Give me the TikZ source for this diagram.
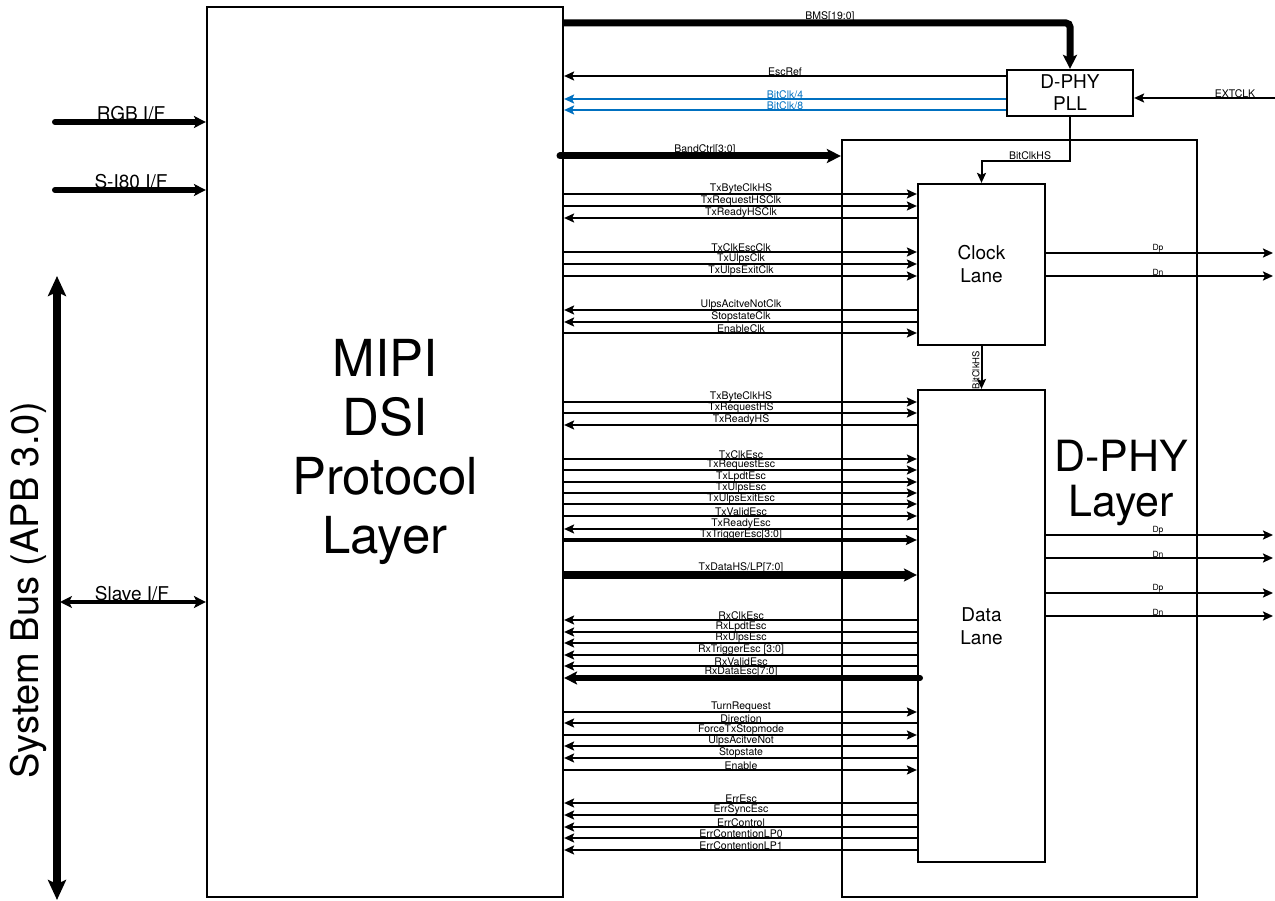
\documentclass[tikz,border=0pt]{standalone}
\usepackage{fontspec}
\setmainfont{TeX Gyre Heros}
\usetikzlibrary{arrows.meta}
\definecolor{bitblue}{RGB}{0,112,192}
\begin{document}
\begin{tikzpicture}[x=1pt,y=-1pt,
  box/.style={draw, line width=2.2pt, inner sep=0pt},
  sig/.style={line width=2pt},
  fwd/.style={-{Stealth[length=10pt,width=9pt,inset=2pt]}},
  bwd/.style={{Stealth[length=10pt,width=9pt,inset=2pt]}-},
  bigfwd/.style={-{Stealth[length=14pt,width=14pt,inset=3pt]}},
  lbl/.style={font=\fontsize{10.5}{11}\selectfont, inner sep=0.3pt, anchor=south},
  small/.style={font=\fontsize{8.5}{9}\selectfont, inner sep=0.3pt, anchor=south},
  bus/.style={line width=6pt},
  midtxt/.style={font=\fontsize{19}{23}\selectfont, align=center, inner sep=0pt}
]
\useasboundingbox (0,0) rectangle (1275,901);

% blocks
\node[box, minimum width=356pt, minimum height=890pt,
      font=\fontsize{51}{59}\selectfont, align=center] (mipi) at (385,452) {MIPI\\DSI\\Protocol\\Layer};
\node[box, minimum width=355pt, minimum height=757pt] (dphy) at (1019.5,518.5) {};
\node[font=\fontsize{43}{45}\selectfont, align=center, inner sep=0pt] (dphytxt) at (1121,483) {D-PHY\\Layer};
\node[box, fill=white, minimum width=127pt, minimum height=161pt, midtxt] (clk) at (981.5,264.5) {Clock\\Lane};
\node[box, fill=white, minimum width=127pt, minimum height=472pt, midtxt] (data) at (981.5,626) {Data\\Lane};
\node[box, fill=white, minimum width=126pt, minimum height=46pt, midtxt, font=\fontsize{19}{22}\selectfont] (pll) at (1070,93) {D-PHY\\PLL};

% system bus
\coordinate (bt) at (57,276);
\coordinate (bb) at (57,900);
\draw[line width=8pt, {Stealth[length=20pt,width=18pt,inset=4pt]}-{Stealth[length=20pt,width=18pt,inset=4pt]}] (bt) -- (bb);
\node[rotate=90, font=\fontsize{38}{40}\selectfont, inner sep=0pt] (systxt) at (28,590) {System Bus (APB 3.0)};

% left interfaces
\coordinate (rgbL) at (55,122);
\coordinate (s80L) at (55,190);
\coordinate (slvL) at (60,602);
\draw[bus, line cap=round, -{Stealth[length=12pt,width=12pt,inset=3pt]}] (rgbL) -- (mipi.west |- rgbL);
\draw[bus, line cap=round, -{Stealth[length=12pt,width=12pt,inset=3pt]}] (s80L) -- (mipi.west |- s80L);
\draw[line width=4pt, {Stealth[length=12pt,width=12pt,inset=3pt]}-{Stealth[length=12pt,width=12pt,inset=3pt]}] (slvL) -- (mipi.west |- slvL);
\node[font=\fontsize{19}{20}\selectfont, inner sep=1pt, anchor=south] (rgbt) at (131,122) {RGB I/F};
\node[font=\fontsize{19}{20}\selectfont, inner sep=1pt, anchor=south] (s80t) at (131,190) {S-I80 I/F};
\node[font=\fontsize{19}{20}\selectfont, inner sep=1pt, anchor=south] (slvt) at (132,602) {Slave I/F};

% PLL connections
\draw[line width=7pt, rounded corners=4pt, bigfwd] (mipi.east |- 0,23) -- (pll.north |- 0,23) -- (pll.north);
\node[lbl, yshift=1pt] (bmst) at (830,23) {BMS[19:0]};
\draw[sig, bwd] (mipi.east |- 0,76) -- (pll.west |- 0,76);
\node[lbl] (esct) at (785,76) {EscRef};
\draw[sig, bitblue, bwd] (mipi.east |- 0,99) -- (pll.west |- 0,99);
\node[lbl, text=bitblue] (b4t) at (785,99) {BitClk/4};
\draw[sig, bitblue, bwd] (mipi.east |- 0,110) -- (pll.west |- 0,110);
\node[lbl, text=bitblue] (b8t) at (785,110) {BitClk/8};
\coordinate (ext) at (1275,98);
\draw[sig, bwd] (pll.east |- ext) -- (ext);
\node[lbl] (extt) at (1235,98) {EXTCLK};
\draw[line width=7pt, line cap=round, bigfwd] (560,156) -- (dphy.west |- 0,156);
\node[lbl, yshift=1pt] (bandt) at (705,156) {BandCtrl[3:0]};
\draw[sig, fwd] (pll.south) -- ++(0,44) -| (clk.north);
\node[lbl] (bchs) at (1030,160) {BitClkHS};
\draw[sig, fwd] (clk.south) -- (data.north);
\node[rotate=90, anchor=south, inner sep=0.3pt, font=\fontsize{9.5}{10}\selectfont] (bchs2) at (980,370) {BitClkHS};

% clock lane signals
\foreach \y/\t/\d in {194/TxByteClkHS/fwd, 206/TxRequestHSClk/fwd, 218/TxReadyHSClk/bwd,
  252/TxClkEscClk/fwd, 264/TxUlpsClk/fwd, 276/TxUlpsExitClk/fwd,
  310/UlpsAcitveNotClk/bwd, 322/StopstateClk/bwd, 333/EnableClk/fwd}{
  \draw[sig,\d] (mipi.east |- 0,\y) -- (clk.west |- 0,\y);
  \node[lbl] (c\y) at (741,\y) {\t};
}

% data lane signals
\foreach \y/\t/\d in {402/TxByteClkHS/fwd, 413/TxRequestHS/fwd, 425/TxReadyHS/bwd,
  459/TxClkEsc/fwd, 470/TxRequestEsc/fwd, 482/TxLpdtEsc/fwd, 493/TxUlpsEsc/fwd,
  504/TxUlpsExitEsc/fwd, 516/TxValidEsc/fwd, 529/TxReadyEsc/bwd,
  620/RxClkEsc/bwd, 632/RxLpdtEsc/bwd, 643/RxUlpsEsc/bwd, 655/{RxTriggerEsc [3:0]}/bwd,
  666/RxValidEsc/bwd,
  712/TurnRequest/fwd, 723/Direction/bwd, 735/ForceTxStopmode/fwd, 746/UlpsAcitveNot/bwd,
  758/Stopstate/bwd, 770/Enable/fwd,
  803/ErrEsc/bwd, 815/ErrSyncEsc/bwd, 827/ErrControl/bwd, 838/ErrContentionLP0/bwd,
  850/ErrContentionLP1/bwd}{
  \draw[sig,\d] (mipi.east |- 0,\y) -- (data.west |- 0,\y);
  \node[lbl] (d\y) at (741,\y) {\t};
}
\draw[line width=3.5pt, -{Stealth[length=11pt,width=10pt,inset=2pt]}] (mipi.east |- 0,540) -- (data.west |- 0,540);
\node[lbl, yshift=0pt] (d540) at (741,540) {TxTriggerEsc[3:0]};
\draw[line width=8pt, -{Stealth[length=13pt,width=13pt,inset=3pt]}] (mipi.east |- 0,575) -- (data.west |- 0,575);
\node[lbl, yshift=2pt] (d575) at (741,575) {TxDataHS/LP[7:0]};
\draw[line width=6pt, line cap=round, {Stealth[length=13pt,width=13pt,inset=3pt]}-] (mipi.east |- 0,678) -- (920,678);
\node[lbl, yshift=1pt] (d678) at (741,678) {RxDataEsc[7:0]};

% outputs
\foreach \y/\t in {253/Dp, 276/Dn}{
  \coordinate (oc\y) at (1273,\y);
  \draw[sig, fwd] (clk.east |- oc\y) -- (oc\y);
  \node[small] (ocl\y) at (1158,\y) {\t};
}
\foreach \y/\t in {535/Dp, 558/Dn, 593/Dp, 616/Dn}{
  \coordinate (od\y) at (1273,\y);
  \draw[sig, fwd] (data.east |- od\y) -- (od\y);
  \node[small] (odl\y) at (1158,\y) {\t};
}
\end{tikzpicture}
\end{document}
